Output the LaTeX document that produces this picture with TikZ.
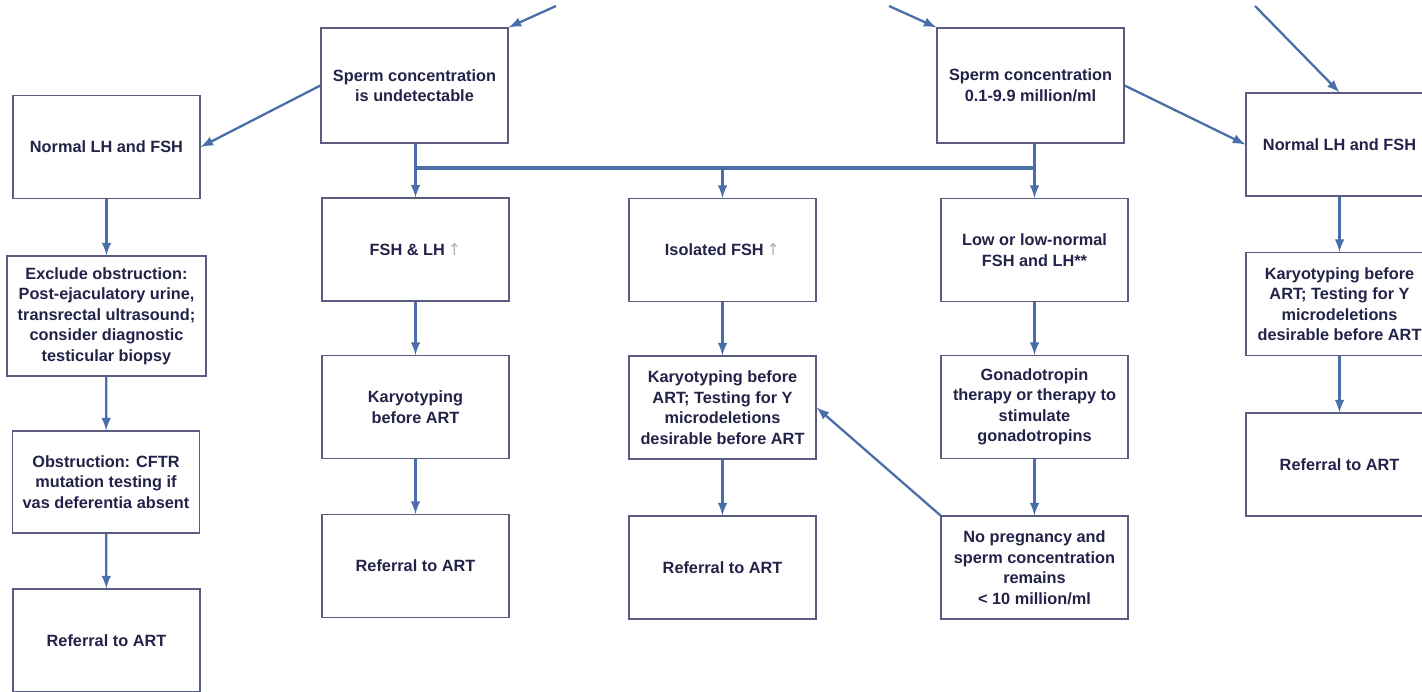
\documentclass[tikz,border=0pt]{standalone}
\usepackage{fontspec}
\setmainfont{Liberation Sans}
\newfontfamily\arrowfont{DejaVu Sans}
\definecolor{boxline}{HTML}{5B5B80}
\definecolor{txt}{HTML}{23234A}
\definecolor{arblue}{HTML}{4A6FA8}
\newcommand{\uparr}{{\arrowfont\mdseries\color{gray!60}\,↑}}
\begin{document}
\begin{tikzpicture}[x=0.5pt, y=-0.5pt, >=latex,
          font=\bfseries\fontsize{8.15}{10.25}\selectfont,
          bx/.style={draw=boxline, line width=0.6pt, fill=white, text=txt, align=center,
                     minimum width=93.5pt, minimum height=51.5pt, inner sep=1pt},
          ar/.style={->, draw=arblue, line width=1.15pt},
          bar/.style={draw=arblue, line width=1.7pt}]
        \clip (0,0) rectangle (1422,691);
        % concentration groups
        \node[bx, minimum height=57.5pt] (sc1) at (414.5,85.5) {Sperm concentration\\is undetectable};
        \node[bx, minimum height=57.5pt] (sc2) at (1030.5,85.5) {Sperm concentration\\0.1-9.9 million/ml};
        % left column
        \node[bx] (nl1) at (106.5,147) {Normal LH and FSH};
        \node[bx, minimum width=99.5pt, minimum height=60pt] (ex) at (106.5,316)
          {Exclude obstruction:\\Post-ejaculatory urine,\\transrectal ultrasound;\\consider diagnostic\\testicular biopsy};
        \node[bx, minimum height=51pt] (ob) at (106,482) {Obstruction: CFTR\\mutation testing if\\vas deferentia absent};
        \node[bx] (ra) at (106.5,640.5) {Referral to ART};
        % middle columns
        \node[bx] (hi) at (415.5,249.5) {FSH \& LH\uparr};
        \node[bx] (ka) at (415.5,407) {Karyotyping\\before ART};
        \node[bx] (rb) at (415.5,566) {Referral to ART};
        \node[bx] (iso) at (722.5,250) {Isolated FSH\uparr};
        \node[bx] (kb) at (722.5,407.5) {Karyotyping before\\ART; Testing for Y\\microdeletions\\desirable before ART};
        \node[bx] (rc) at (722.5,567.5) {Referral to ART};
        \node[bx] (lo) at (1034.5,250) {Low or low-normal\\FSH and LH**};
        \node[bx] (gon) at (1034.5,407) {Gonadotropin\\therapy or therapy to\\stimulate\\gonadotropins};
        \node[bx] (np) at (1034.5,567.5) {No pregnancy and\\sperm concentration\\remains\\< 10 million/ml};
        % right column
        \node[bx] (nl2) at (1339.5,144.5) {Normal LH and FSH};
        \node[bx] (kc) at (1339.5,304) {Karyotyping before\\ART; Testing for Y\\microdeletions\\desirable before ART};
        \node[bx] (rd) at (1339.5,464.5) {Referral to ART};
        % incoming arrows from above the cut
        \coordinate (in1) at (556,6);
        \coordinate (in2) at (889,6);
        \coordinate (in3) at (1255,6);
        \draw[ar] (in1) -- (sc1.north east);
        \draw[ar] (in2) -- (sc2.north west);
        \draw[ar] (in3) -- (nl2.north);
        \draw[ar] (sc1.west) -- (nl1.east);
        \draw[ar] (sc2.east) -- (nl2.west);
        % split bar
        \coordinate (bl) at (415.5,168);
        \coordinate (bm) at (722.5,168);
        \coordinate (br) at (1034.5,168);
        \draw[bar] (bl) -- (br);
        \draw[ar] (sc1.south -| hi.north) -- (hi.north);
        \draw[ar] (bm) -- (iso.north);
        \draw[ar] (sc2.south -| lo.north) -- (lo.north);
        \foreach \a/\b in {nl1/ex, ex/ob, ob/ra, hi/ka, ka/rb, iso/kb, kb/rc, lo/gon, gon/np, nl2/kc, kc/rd} {
          \draw[ar] (\a) -- (\b);
        }
        \draw[ar] (np.north west) -- (kb.east);
      \end{tikzpicture}
\end{document}
